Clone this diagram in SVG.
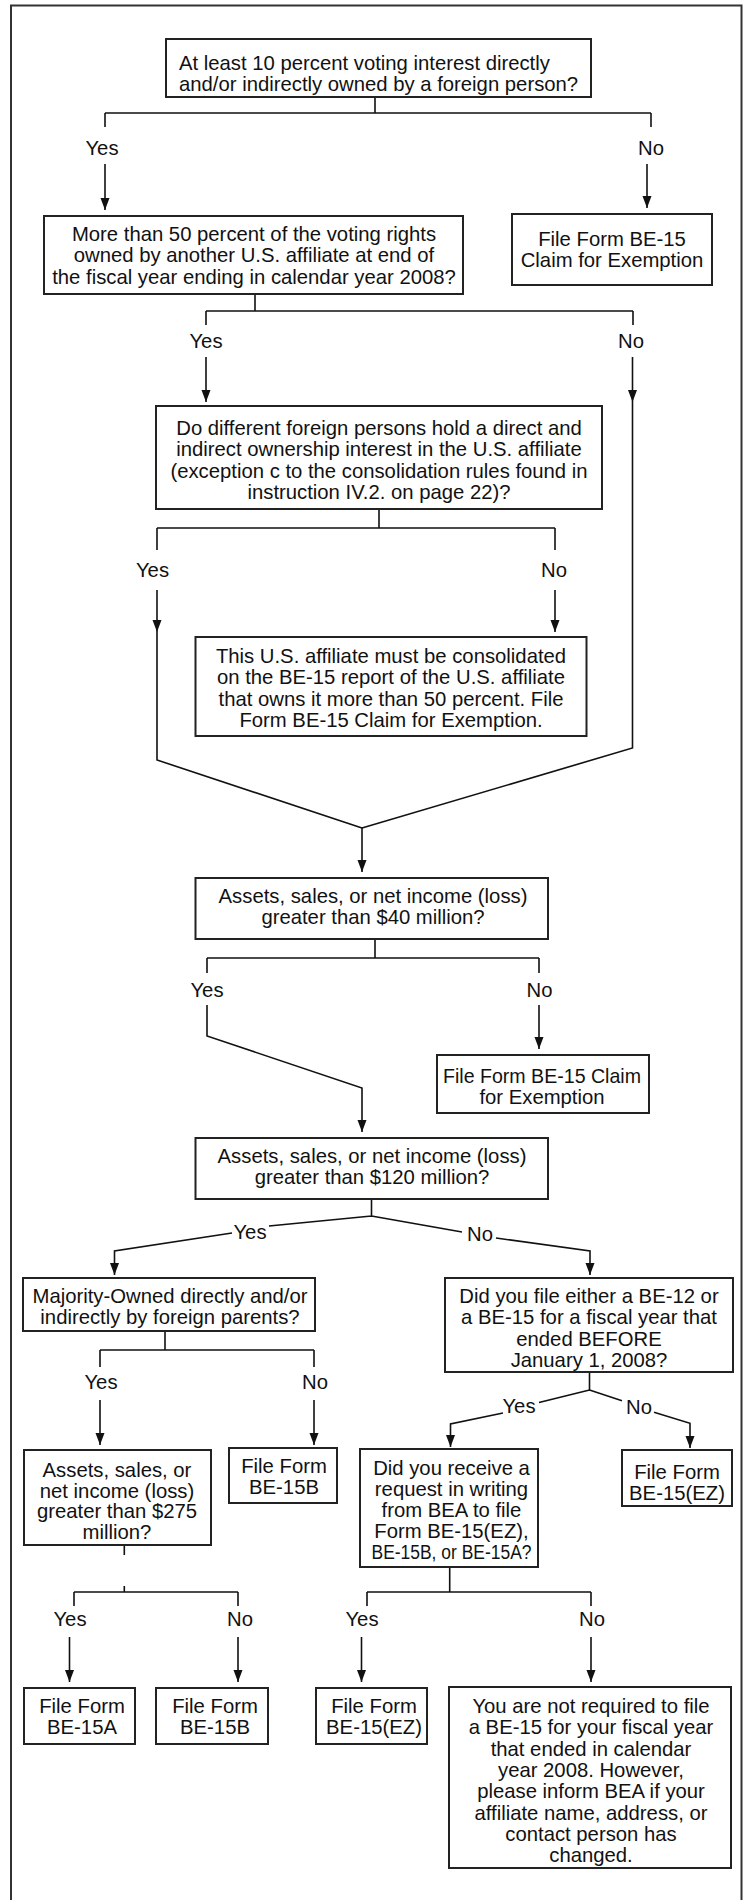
<svg xmlns="http://www.w3.org/2000/svg" width="746" height="1900" viewBox="0 0 746 1900">
<style>
.box{fill:#fff;stroke:#222;stroke-width:2}
.t{font-family:"Liberation Sans",Arial,Helvetica,sans-serif;font-size:20.3px;fill:#111}
.c{text-anchor:middle}
.ln{fill:none;stroke:#111;stroke-width:1.6}
.ar{fill:none;stroke:#111;stroke-width:1.6;marker-end:url(#ah)}
.frame{fill:none;stroke:#333;stroke-width:2}
</style>
<defs>
<marker id="ah" markerUnits="userSpaceOnUse" markerWidth="12" markerHeight="10" refX="12" refY="4.5" orient="auto">
<path d="M0,0 L12,4.5 L0,9 z" fill="#111"/>
</marker>
</defs>
<rect width="746" height="1900" fill="#fff"/>
<path class="frame" d="M11,1900 V5.5 H741.5 V1900"/>

<g id="connectors">
<path class="ln" d="M375,97 V113 M105,113 H651 M105,113 V127 M651,113 V127"/>
<path class="ar" d="M105,164 V210"/>
<path class="ar" d="M647,164 V208"/>
<text class="t c" x="102" y="154.5">Yes</text>
<text class="t c" x="651" y="155">No</text>

<path class="ln" d="M255,294 V311 M206,311 H633 M206,311 V325 M633,311 V325"/>
<path class="ar" d="M206,357 V402"/>
<path class="ar" d="M632.5,357 V402"/>
<path class="ln" d="M632.5,402 V748 L362,828"/>
<text class="t c" x="206" y="348">Yes</text>
<text class="t c" x="631" y="348">No</text>

<path class="ln" d="M379,509 V528 M157,528 H555 M157,528 V550 M555,528 V550"/>
<path class="ar" d="M157,590 V632"/>
<path class="ln" d="M157,632 V760 L362,828"/>
<path class="ar" d="M555,590 V632"/>
<path class="ar" d="M362,828 V872"/>
<text class="t c" x="152.5" y="577">Yes</text>
<text class="t c" x="554" y="577">No</text>

<path class="ln" d="M375,939 V958 M207,958 H539 M207,958 V973 M539,958 V973"/>
<path class="ar" d="M207,1005 V1036 L362,1088 V1132"/>
<path class="ar" d="M539,1005 V1049"/>
<text class="t c" x="207" y="997">Yes</text>
<text class="t c" x="539.5" y="997">No</text>

<path class="ln" d="M371.5,1199 V1216 M371.5,1216 L269,1226 M371.5,1216 L462,1232"/>
<path class="ar" d="M232,1233 L114.5,1251 V1275"/>
<path class="ar" d="M496,1238 L590,1251 V1275"/>
<text class="t c" x="250" y="1239">Yes</text>
<text class="t c" x="480" y="1240.5">No</text>

<path class="ln" d="M165,1331 V1350 M100,1350 H314 M100,1350 V1367 M314,1350 V1367"/>
<path class="ar" d="M100,1400 V1445"/>
<path class="ar" d="M314,1400 V1445"/>
<text class="t c" x="101" y="1389">Yes</text>
<text class="t c" x="315" y="1389">No</text>

<path class="ln" d="M589.5,1372 V1390 M589.5,1390 L539,1402.5 M589.5,1390 L622,1400.7"/>
<path class="ar" d="M503,1413 L450.5,1424 V1447"/>
<path class="ar" d="M654,1412.3 L690,1423.3 V1448"/>
<text class="t c" x="519" y="1413">Yes</text>
<text class="t c" x="639" y="1413.5">No</text>

<path class="ln" d="M124.3,1545 V1555 M124.3,1586 V1592 M74,1592 H238 M74,1592 V1606 M238,1592 V1606"/>
<path class="ar" d="M69.5,1637 V1682"/>
<path class="ar" d="M238,1637 V1682"/>
<text class="t c" x="70" y="1626">Yes</text>
<text class="t c" x="240" y="1626">No</text>

<path class="ln" d="M449.7,1567 V1592 M367,1592 H591 M367,1592 V1606 M591,1592 V1606"/>
<path class="ar" d="M361.5,1637 V1682"/>
<path class="ar" d="M591,1637 V1682"/>
<text class="t c" x="362" y="1625.5">Yes</text>
<text class="t c" x="592" y="1625.5">No</text>
</g>

<g id="n1">
<rect class="box" x="166" y="39" width="425" height="58"/>
<text class="t" x="179" y="69.5">At least 10 percent voting interest directly</text>
<text class="t" x="179" y="90.8">and/or indirectly owned by a foreign person?</text>
</g>
<g id="n2">
<rect class="box" x="44" y="216" width="419" height="78"/>
<text class="t c" x="254" y="241">More than 50 percent of the voting rights</text>
<text class="t c" x="254" y="262.3">owned by another U.S. affiliate at end of</text>
<text class="t c" x="254" y="283.6">the fiscal year ending in calendar year 2008?</text>
</g>
<g id="n3">
<rect class="box" x="512" y="214" width="200" height="71"/>
<text class="t c" x="612" y="246">File Form BE-15</text>
<text class="t c" x="612" y="267.3">Claim for Exemption</text>
</g>
<g id="n4">
<rect class="box" x="156" y="406" width="446" height="103"/>
<text class="t c" x="379" y="435">Do different foreign persons hold a direct and</text>
<text class="t c" x="379" y="456.3">indirect ownership interest in the U.S. affiliate</text>
<text class="t c" x="379" y="477.6">(exception c to the consolidation rules found in</text>
<text class="t c" x="379" y="498.9">instruction IV.2. on page 22)?</text>
</g>
<g id="n5">
<rect class="box" x="195.5" y="637" width="391" height="99"/>
<text class="t c" x="391" y="663">This U.S. affiliate must be consolidated</text>
<text class="t c" x="391" y="684.3">on the BE-15 report of the U.S. affiliate</text>
<text class="t c" x="391" y="705.6">that owns it more than 50 percent. File</text>
<text class="t c" x="391" y="726.9">Form BE-15 Claim for Exemption.</text>
</g>
<g id="n6">
<rect class="box" x="195.5" y="878" width="352.5" height="61"/>
<text class="t c" x="373" y="903">Assets, sales, or net income (loss)</text>
<text class="t c" x="373" y="924.3">greater than $40 million?</text>
</g>
<g id="n7">
<rect class="box" x="437" y="1055" width="212" height="58"/>
<text class="t c" x="542" y="1083" textLength="198" lengthAdjust="spacingAndGlyphs">File Form BE-15 Claim</text>
<text class="t c" x="542" y="1104">for Exemption</text>
</g>
<g id="n8">
<rect class="box" x="195.5" y="1138" width="352.5" height="61"/>
<text class="t c" x="372" y="1163">Assets, sales, or net income (loss)</text>
<text class="t c" x="372" y="1184.3">greater than $120 million?</text>
</g>
<g id="n9">
<rect class="box" x="23" y="1278" width="292" height="53"/>
<text class="t c" x="170" y="1303">Majority-Owned directly and/or</text>
<text class="t c" x="170" y="1324.3">indirectly by foreign parents?</text>
</g>
<g id="n10">
<rect class="box" x="445" y="1278" width="288" height="94"/>
<text class="t c" x="589" y="1303">Did you file either a BE-12 or</text>
<text class="t c" x="589" y="1324.3">a BE-15 for a fiscal year that</text>
<text class="t c" x="589" y="1345.6">ended BEFORE</text>
<text class="t c" x="589" y="1366.9">January 1, 2008?</text>
</g>
<g id="n11">
<rect class="box" x="24" y="1450" width="187" height="95"/>
<text class="t c" x="117" y="1477">Assets, sales, or</text>
<text class="t c" x="117" y="1497.7">net income (loss)</text>
<text class="t c" x="117" y="1518.4">greater than $275</text>
<text class="t c" x="117" y="1539.1">million?</text>
</g>
<g id="n12">
<rect class="box" x="229" y="1448" width="108" height="55"/>
<text class="t c" x="284" y="1473">File Form</text>
<text class="t c" x="284" y="1494">BE-15B</text>
</g>
<g id="n13">
<rect class="box" x="360" y="1449" width="178" height="118"/>
<text class="t c" x="451.5" y="1475">Did you receive a</text>
<text class="t c" x="451.5" y="1496">request in writing</text>
<text class="t c" x="451.5" y="1517">from BEA to file</text>
<text class="t c" x="451.5" y="1538">Form BE-15(EZ),</text>
<text class="t c" x="451.5" y="1559" textLength="160" lengthAdjust="spacingAndGlyphs">BE-15B, or BE-15A?</text>
</g>
<g id="n14">
<rect class="box" x="622" y="1450" width="110" height="56"/>
<text class="t c" x="677" y="1479">File Form</text>
<text class="t c" x="677" y="1500">BE-15(EZ)</text>
</g>
<g id="n15">
<rect class="box" x="24" y="1688" width="111" height="56"/>
<text class="t c" x="82" y="1713">File Form</text>
<text class="t c" x="82" y="1734">BE-15A</text>
</g>
<g id="n16">
<rect class="box" x="156" y="1688" width="112" height="56"/>
<text class="t c" x="215" y="1713">File Form</text>
<text class="t c" x="215" y="1734">BE-15B</text>
</g>
<g id="n17">
<rect class="box" x="316" y="1688" width="111" height="56"/>
<text class="t c" x="374" y="1713">File Form</text>
<text class="t c" x="374" y="1734">BE-15(EZ)</text>
</g>
<g id="n18">
<rect class="box" x="449" y="1687" width="282" height="181"/>
<text class="t c" x="591" y="1713">You are not required to file</text>
<text class="t c" x="591" y="1734.3">a BE-15 for your fiscal year</text>
<text class="t c" x="591" y="1755.6">that ended in calendar</text>
<text class="t c" x="591" y="1776.9">year 2008. However,</text>
<text class="t c" x="591" y="1798.2">please inform BEA if your</text>
<text class="t c" x="591" y="1819.5">affiliate name, address, or</text>
<text class="t c" x="591" y="1840.8">contact person has</text>
<text class="t c" x="591" y="1862.1">changed.</text>
</g>
</svg>
